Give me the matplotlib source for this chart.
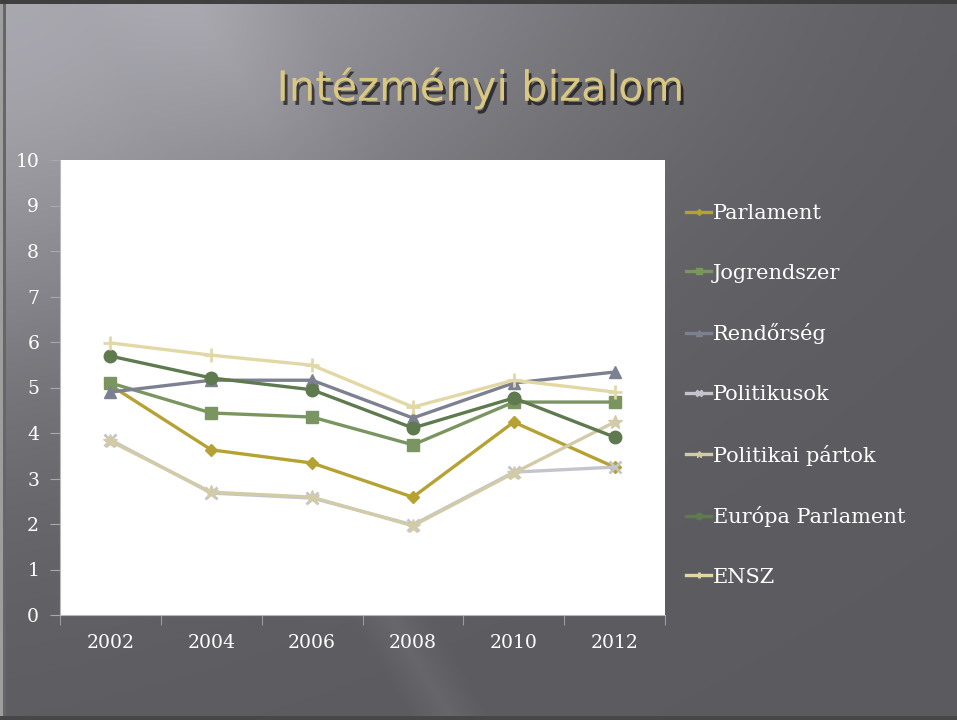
import numpy as np
import matplotlib
matplotlib.use('Agg')
import matplotlib.pyplot as plt
import matplotlib.patheffects as pe

# data
years = ['2002', '2004', '2006', '2008', '2010', '2012']
parlament = [5.05, 3.63, 3.34, 2.59, 4.24, 3.25]
jogrendszer = [5.10, 4.44, 4.35, 3.74, 4.68, 4.68]
rendorseg = [4.90, 5.16, 5.16, 4.33, 5.10, 5.34]
politikusok = [3.85, 2.68, 2.57, 1.98, 3.14, 3.25]
politikai_partok = [3.82, 2.70, 2.59, 1.96, 3.12, 4.24]
europa_parlament = [5.69, 5.21, 4.95, 4.11, 4.77, 3.91]
ensz = [5.98, 5.71, 5.49, 4.57, 5.16, 4.90]

series = [
    ('Parlament', parlament, '#b5a233', 'D', 6),
    ('Jogrendszer', jogrendszer, '#7a9560', 's', 9),
    ('Rendőrség', rendorseg, '#7d8090', '^', 9),
    ('Politikusok', politikusok, '#c4c4cc', 'x', 9),
    ('Politikai pártok', politikai_partok, '#d2cba8', '*', 10),
    ('Európa Parlament', europa_parlament, '#5e7a4e', 'o', 9),
    ('ENSZ', ensz, '#e2d8a6', '+', 10),
]

W, H = 957, 720
fig = plt.figure(figsize=(W / 100, H / 100), dpi=100)

# slide background: grey gradient, lighter towards the top left
bg = fig.add_axes([0, 0, 1, 1], zorder=-10)
xx, yy = np.meshgrid(np.linspace(0, 1, W), np.linspace(0, 1, H))
b = 0.36 + 0.30 * np.exp(-((xx + 0.3 * yy) / 0.6) ** 2 - (yy / 0.55) ** 2)
px, py = xx * W, yy * H
p = px - 0.6 * py
band = np.clip(1 - np.abs(p - 190) / 110, 0, 1) * np.clip(1 - py / 260, 0, 1)
b = b + 0.04 * band
streak = np.clip(1 - np.abs(p - 20) / 40, 0, 1) * (py > 560)
b = b + 0.04 * streak
img = np.dstack([b, b * 0.995, b * 1.04]).clip(0, 1)
img[:, :3] = 0.62
img[:, 3:6] = 0.40
img[:4, :] = 0.25
img[-4:, :] = 0.28
bg.imshow(img, aspect='auto', extent=[0, 1, 0, 1], origin='upper')
bg.axis('off')

ax = fig.add_axes([60 / W, 1 - 615 / H, 605 / W, 455 / H])
ax.set_facecolor('white')
x = np.arange(len(years))
for name, vals, color, marker, ms in series:
    ax.plot(x, vals, color=color, lw=2.4, marker=marker, markersize=ms,
            markeredgewidth=2 if marker in 'x+' else 1, label=name,
            solid_joinstyle='round')

ax.set_xlim(-0.5, len(years) - 0.5)
ax.set_ylim(0, 10)
ax.set_yticks(range(0, 11))
ax.set_xticks(np.arange(-0.5, len(years)), labels=[''] * (len(years) + 1))
ax.set_xticks(x, labels=years, minor=True)
ax.tick_params(axis='x', which='major', length=7, color='#9a9aa0', direction='out')
ax.tick_params(axis='x', which='minor', length=0, pad=14, labelsize=13.5,
               labelcolor='white')
ax.tick_params(axis='y', length=7, color='#a8a8ae', pad=8, labelsize=13.5,
               labelcolor='white')
for lab in ax.get_xticklabels(minor=True) + ax.get_yticklabels():
    lab.set_family('DejaVu Serif')
for s in ['top', 'right']:
    ax.spines[s].set_visible(False)
ax.spines['left'].set_color('#b8b8be')
ax.spines['bottom'].set_color('#b8b8be')

leg = fig.legend(loc='upper left', bbox_to_anchor=(686 / W, 1 - 204 / H),
                 frameon=False, handlelength=1.2, handletextpad=0.1,
                 labelspacing=1.95, borderpad=0, borderaxespad=0, markerscale=0.5,
                 prop={'family': 'DejaVu Serif', 'size': 15})
for t in leg.get_texts():
    t.set_color('white')

fig.text(480 / W, 1 - 88 / H, 'Intézményi bizalom', ha='center', va='center',
         fontsize=30, color='#dac882', family='DejaVu Sans',
         path_effects=[pe.withSimplePatchShadow(offset=(2, -3), shadow_rgbFace='black',
                                                alpha=0.6)])

fig.savefig('out.png', dpi=100)
